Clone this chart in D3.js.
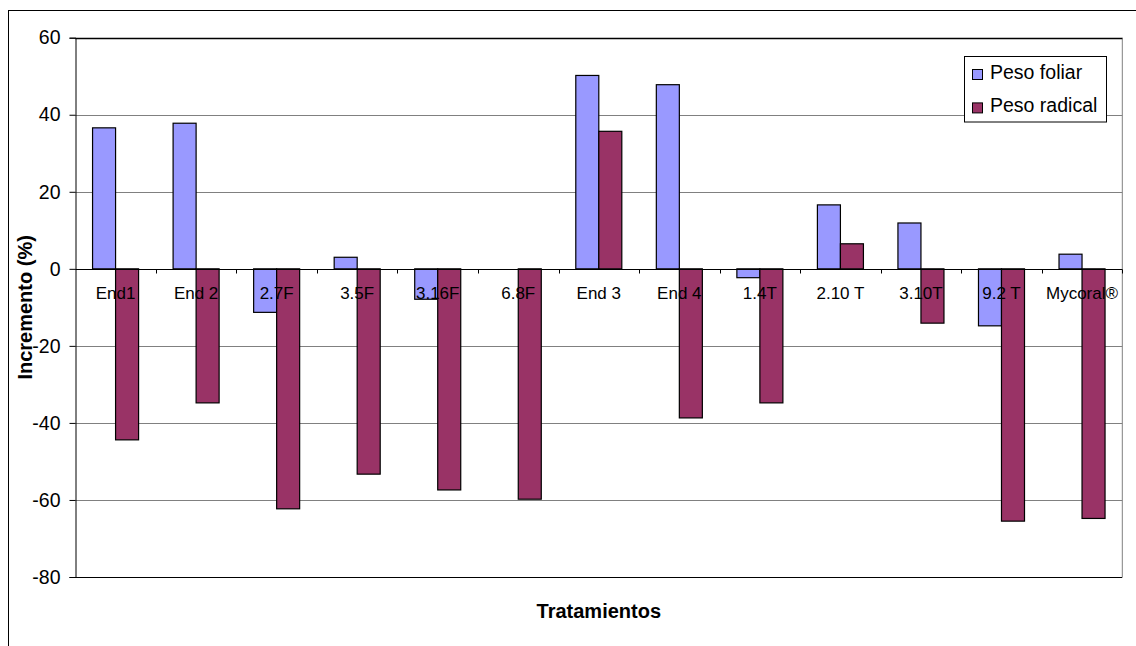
<!DOCTYPE html>
<html>
<head>
<meta charset="utf-8">
<script src="https://cdn.jsdelivr.net/npm/d3@7"></script>
<style>
  html, body { margin: 0; padding: 0; background: #fff; }
  svg { display: block; font-family: Arial, "Liberation Sans", sans-serif; }
</style>
</head>
<body>
<svg id="chart" width="1136" height="646"></svg>
<script>
const categories = ["End1", "End 2", "2.7F", "3.5F", "3.16F", "6.8F", "End 3", "End 4", "1.4T", "2.10 T", "3.10T", "9.2 T", "Mycoral®"];
const seriesNames = ["Peso foliar", "Peso radical"];
const pesoFoliar = [36.6, 37.8, -11.3, 3.0, -7.9, 0, 50.2, 47.8, -2.3, 16.6, 11.9, -14.8, 3.8];
const pesoRadical = [-44.4, -34.8, -62.3, -53.3, -57.4, -59.8, 35.7, -38.7, -34.8, 6.5, -14.1, -65.5, -64.8];
const yTicks = [60, 40, 20, 0, -20, -40, -60, -80];

const colors = { "Peso foliar": "#9999ff", "Peso radical": "#993366" };
const values = { "Peso foliar": pesoFoliar, "Peso radical": pesoRadical };

const plot = { left: 75.3, right: 1122.3, top: 37.7, bottom: 577 };

const svg = d3.select("#chart");

// outer chart frame (cut off at right and bottom)
svg.append("rect")
  .attr("x", 8.5).attr("y", 10.5)
  .attr("width", 1140).attr("height", 650)
  .attr("fill", "#fff").attr("stroke", "#000").attr("stroke-width", 1);

const x = d3.scaleBand().domain(categories).range([plot.left, plot.right]);
const x1 = d3.scaleBand().domain(seriesNames).range([0, x.bandwidth()])
  .paddingInner(0).paddingOuter(0.75);
const y = d3.scaleLinear().domain([-80, 60]).range([plot.bottom, plot.top]);

// gridlines
svg.append("g")
  .selectAll("line")
  .data(yTicks.filter(d => d !== 0 && d !== 60 && d !== -80))
  .join("line")
  .attr("x1", plot.left).attr("x2", plot.right)
  .attr("y1", d => Math.round(y(d)) + 0.5).attr("y2", d => Math.round(y(d)) + 0.5)
  .attr("stroke", "#808080").attr("stroke-width", 1);

// plot area border
svg.append("line")
  .attr("x1", plot.right).attr("x2", plot.right)
  .attr("y1", plot.top).attr("y2", plot.bottom)
  .attr("stroke", "#808080");
svg.append("line")
  .attr("x1", plot.left).attr("x2", plot.right)
  .attr("y1", Math.round(y(60)) + 0.5).attr("y2", Math.round(y(60)) + 0.5)
  .attr("stroke", "#000").attr("stroke-width", 1.5);
svg.append("line")
  .attr("x1", plot.left).attr("x2", plot.right)
  .attr("y1", Math.round(y(-80)) + 0.5).attr("y2", Math.round(y(-80)) + 0.5)
  .attr("stroke", "#000");

// y axis (plain hyphen for negatives, as in the original)
const gy = svg.append("g")
  .attr("transform", `translate(${Math.round(plot.left) + 0.5},0)`)
  .call(d3.axisLeft(y).tickValues(yTicks).tickSize(6).tickPadding(9).tickFormat(d => String(d)));
gy.select(".domain").attr("stroke", "#000");
gy.selectAll(".tick line").attr("stroke", "#000");
gy.selectAll(".tick text")
  .attr("font-size", 19.5).attr("fill", "#000")
  .attr("font-family", "Arial, 'Liberation Sans', sans-serif");

// bars
const group = svg.append("g")
  .selectAll("g")
  .data(categories)
  .join("g")
  .attr("transform", d => `translate(${x(d)},0)`);

group.selectAll("rect")
  .data((d, i) => seriesNames.map(s => ({ s, v: values[s][i] })).filter(e => e.v !== 0))
  .join("rect")
  .attr("x", e => x1(e.s))
  .attr("width", x1.bandwidth())
  .attr("y", e => y(Math.max(0, e.v)))
  .attr("height", e => Math.abs(y(e.v) - y(0)))
  .attr("fill", e => colors[e.s])
  .attr("stroke", "#000").attr("stroke-width", 1.2);

// x axis at zero
const y0 = Math.round(y(0)) + 0.5;
svg.append("line")
  .attr("x1", plot.left).attr("x2", plot.right)
  .attr("y1", y0).attr("y2", y0)
  .attr("stroke", "#000");
svg.append("g")
  .selectAll("line")
  .data(categories.slice(1).concat([null]))
  .join("line")
  .attr("x1", (d, i) => Math.round(x(categories[i]) + x.bandwidth()) + 0.5)
  .attr("x2", (d, i) => Math.round(x(categories[i]) + x.bandwidth()) + 0.5)
  .attr("y1", y0).attr("y2", y0 + 4)
  .attr("stroke", "#000");

// category labels (drawn on top of bars)
svg.append("g")
  .selectAll("text")
  .data(categories)
  .join("text")
  .attr("x", d => x(d) + x.bandwidth() / 2)
  .attr("y", 298.5)
  .attr("text-anchor", "middle")
  .attr("font-size", 17)
  .attr("fill", "#000")
  .text(d => d);

// axis titles
svg.append("text")
  .attr("x", (plot.left + plot.right) / 2)
  .attr("y", 617.5)
  .attr("text-anchor", "middle")
  .attr("font-size", 20).attr("font-weight", "bold")
  .text("Tratamientos");
svg.append("text")
  .attr("transform", `translate(32,${(plot.top + plot.bottom) / 2}) rotate(-90)`)
  .attr("text-anchor", "middle")
  .attr("font-size", 20).attr("font-weight", "bold")
  .text("Incremento (%)");

// legend
const legend = svg.append("g");
legend.append("rect")
  .attr("x", 964.5).attr("y", 56.5)
  .attr("width", 142).attr("height", 65.5)
  .attr("fill", "#fff").attr("stroke", "#000");
const item = legend.selectAll("g")
  .data(seriesNames)
  .join("g")
  .attr("transform", (d, i) => `translate(0,${i * 33.4})`);
item.append("rect")
  .attr("x", 972.5).attr("y", 69.5)
  .attr("width", 10).attr("height", 10)
  .attr("fill", d => colors[d]).attr("stroke", "#000");
item.append("text")
  .attr("x", 990).attr("y", 78.5)
  .attr("font-size", 19.5)
  .attr("fill", "#000")
  .text(d => d);
</script>
</body>
</html>
